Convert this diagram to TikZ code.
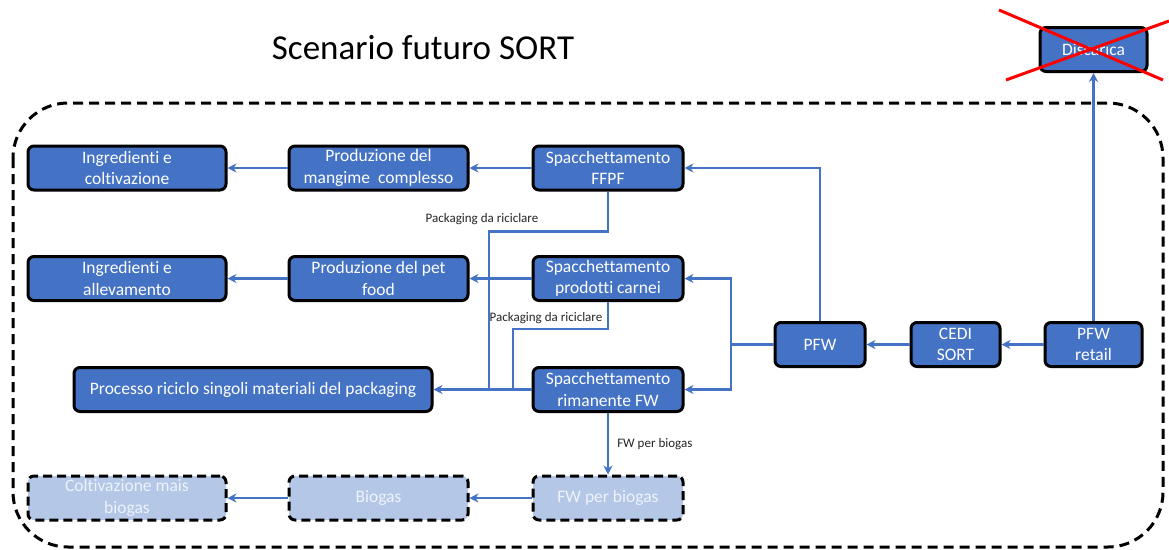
\documentclass[tikz,border=0pt]{standalone}
\usepackage{fontspec}
\setmainfont[Ligatures=NoCommon]{Carlito}
\usetikzlibrary{arrows.meta}
\definecolor{boxblue}{HTML}{4472C4}
\definecolor{lightblue}{HTML}{B4C7E7}
\definecolor{fadetext}{HTML}{EEF2FA}
\tikzset{
  proc/.style={draw=black, line width=3pt, fill=boxblue, rounded corners=6pt,
    minimum height=44pt, text=white, align=center, inner sep=0pt,
    font=\fontsize{17.5}{21.5}\selectfont},
  dproc/.style={proc, fill=lightblue, text=fadetext, dash pattern=on 9pt off 5pt},
  conn/.style={draw=boxblue, line width=2.5pt, -{Stealth[length=9pt,width=9pt]}},
  plainconn/.style={draw=boxblue, line width=2.5pt},
  lbl/.style={font=\fontsize{13}{15}\selectfont, inner sep=0pt, text=black!85},
}
\begin{document}
\begin{tikzpicture}[x=1pt,y=-1pt]
\useasboundingbox (0,0) rectangle (1169,549);
% outer dashed boundary
\draw[line width=3pt, dash pattern=on 10pt off 6pt, rounded corners=55pt] (13,103) rectangle (1163,547);
% title
\node[font=\fontsize{35}{40}\selectfont, inner sep=0pt] (title) at (423,48) {Scenario futuro SORT};
% row 1
\node[proc, minimum width=198pt] (ingr1) at (127,168) {Ingredienti e\\coltivazione};
\node[proc, minimum width=179pt] (prod1) at (378.5,168) {Produzione del\\mangime\ \ complesso};
\node[proc, minimum width=150pt] (spac1) at (608,168) {Spacchettamento\\FFPF};
% row 2
\node[proc, minimum width=198pt] (ingr2) at (127,278.5) {Ingredienti e\\allevamento};
\node[proc, minimum width=179pt] (prod2) at (378.5,278.5) {Produzione del pet\\food};
\node[proc, minimum width=150pt] (spac2) at (608,278.5) {Spacchettamento\\prodotti carnei};
% row 3
\node[proc, minimum width=358pt] (ricic) at (253,389.5) {Processo riciclo singoli materiali del packaging};
\node[proc, minimum width=150pt] (spac3) at (608,389.5) {Spacchettamento\\rimanente FW};
% row 4
\node[dproc, minimum width=198pt] (colt) at (127,498) {Coltivazione mais\\biogas};
\node[dproc, minimum width=179pt] (biogas) at (378.5,498) {Biogas};
\node[dproc, minimum width=150pt] (fwb) at (608,498) {FW per biogas};
% right chain
\node[proc, minimum width=90pt] (pfw) at (820,344.5) {PFW};
\node[proc, minimum width=89pt] (cedi) at (955.5,344.5) {CEDI\\SORT};
\node[proc, minimum width=97pt] (retail) at (1093.5,344.5) {PFW\\retail};
\node[proc, minimum width=107pt] (disc) at (1093.5,49.5) {Discarica};
% red cross
\draw[red, line width=3pt] (999,10) -- (1163,80);
\draw[red, line width=3pt] (1006,80) -- (1169,21);
% connectors
\draw[conn] (spac1) -- (prod1);
\draw[conn] (prod1) -- (ingr1);
\draw[conn] (spac2) -- (prod2);
\draw[conn] (prod2) -- (ingr2);
\draw[conn] (spac3) -- (ricic);
\draw[conn] (fwb) -- (biogas);
\draw[conn] (biogas) -- (colt);
\draw[conn] (spac3) -- node[lbl, right=8pt, pos=0.5] (lfw) {FW per biogas} (fwb);
\draw[conn] (cedi) -- (pfw);
\draw[conn] (retail) -- (cedi);
\draw[conn] (retail) -- (disc);
\draw[conn] (pfw.north) |- (spac1.east);
\coordinate (jn) at (731,344.5);
\draw[plainconn] (pfw.west) -- (jn);
\draw[conn] (jn) |- (spac2.east);
\draw[conn] (jn) |- (spac3.east);
% packaging lines
\coordinate (pk1) at (489,389.5);
\coordinate (pk2) at (513,389.5);
\draw[plainconn] (spac1.south) -- ++(0,40) -| (pk1);
\draw[plainconn] (spac2.south) -- ++(0,27) -| (pk2);
\node[lbl] (lp1) at (482,219) {Packaging da riciclare};
\node[lbl] (lp2) at (546,318) {Packaging da riciclare};
\end{tikzpicture}
\end{document}
